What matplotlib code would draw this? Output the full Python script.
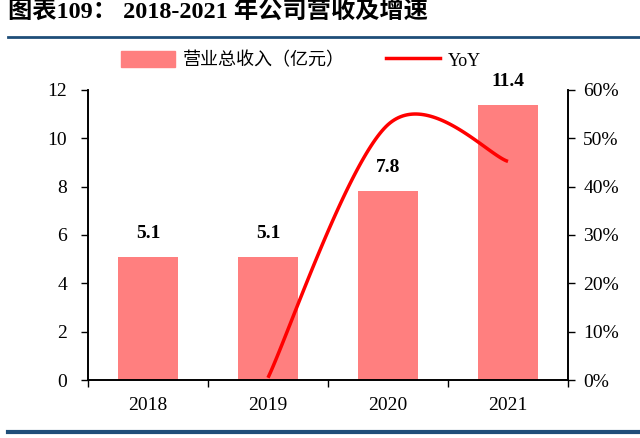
import numpy as np
import matplotlib.pyplot as plt
from matplotlib.lines import Line2D
from matplotlib.patches import Patch

# 数据
years = ['2018', '2019', '2020', '2021']
revenue = [5.1, 5.1, 7.82, 11.38]
revenue_labels = ['5.1', '5.1', '7.8', '11.4']
yoy_years = [1, 2, 3]          # 2019-2021 位置
yoy = [0.5, 52.8, 45.2]        # %

fonts = ['Liberation Serif', 'Noto Sans CJK SC']
plt.rcParams['font.family'] = fonts

bar_color = '#FF7F7F'
line_color = '#FF0000'
navy = '#1F4E79'


def excel_smooth(xs, ys, n=60):
    # Bezier 平滑, 类似 Excel 的平滑线
    pts = np.column_stack([xs, ys]).astype(float)
    out = []
    for i in range(len(pts) - 1):
        p0 = pts[max(i - 1, 0)]
        p1 = pts[i]
        p2 = pts[i + 1]
        p3 = pts[min(i + 2, len(pts) - 1)]
        c1 = p1 + (p2 - p0) / 6
        c2 = p2 - (p3 - p1) / 6
        t = np.linspace(0, 1, n)[:, None]
        seg = ((1 - t) ** 3) * p1 + 3 * ((1 - t) ** 2) * t * c1 \
            + 3 * (1 - t) * t ** 2 * c2 + t ** 3 * p2
        out.append(seg)
    out = np.vstack(out)
    return out[:, 0], out[:, 1]


fig = plt.figure(figsize=(6.4, 4.38), dpi=100)
ax = fig.add_axes([0.1375, 0.132, 0.75, 0.663])
x = np.arange(len(years))
ax.bar(x, revenue, width=0.5, color=bar_color, zorder=1)
for xi, v, lab in zip(x, revenue, revenue_labels):
    ax.text(xi, v + 0.6, lab, ha='center', va='bottom', fontsize=14,
            fontweight='bold', family=fonts)

ax.set_xlim(-0.5, 3.5)
ax.set_ylim(0, 12)
ax.set_yticks(range(0, 13, 2))
ax.set_xticks(x)
ax.set_xticklabels(years)
ax.set_xticks(np.arange(-0.5, 4, 1), minor=True)
ax.tick_params(axis='x', which='major', length=0, pad=12, labelsize=14)
ax.tick_params(axis='x', which='minor', length=5, direction='out', width=1)
ax.tick_params(axis='y', length=5, width=1, labelsize=14, pad=10)
ax.spines['top'].set_visible(False)
for s in ['left', 'right', 'bottom']:
    ax.spines[s].set_linewidth(1.2)

ax2 = ax.twinx()
sx, sy = excel_smooth(yoy_years, yoy)
ax2.plot(sx, sy, color=line_color, lw=2.5, solid_capstyle='butt', zorder=3)
ax2.set_ylim(0, 60)
ax2.set_yticks(range(0, 61, 10))
ax2.set_yticklabels([f'{v}%' for v in range(0, 61, 10)])
ax2.tick_params(axis='y', length=5, width=1, labelsize=14, pad=6)
ax2.spines['top'].set_visible(False)
for s in ['left', 'right', 'bottom']:
    ax2.spines[s].set_linewidth(1.2)

handles = [Patch(color=bar_color), Line2D([], [], color=line_color, lw=2.5)]
fig.legend(handles, ['营业总收入（亿元）', 'YoY'], loc='center',
           bbox_to_anchor=(0.47, 0.862), ncol=2, frameon=False,
           prop={'family': fonts, 'size': 13}, handlelength=3.0,
           handleheight=1.0, columnspacing=2.3, handletextpad=0.4)

fig.text(0.012, 0.972, '图表109： 2018-2021 年公司营收及增速', ha='left', va='center',
         fontsize=17.5, fontweight='bold', family=fonts)
fig.add_artist(Line2D([0.012, 1.0], [0.915, 0.915], color=navy, lw=2))
fig.add_artist(Line2D([0.012, 1.0], [0.014, 0.014], color=navy, lw=3))

fig.savefig('out.png', dpi=100)
